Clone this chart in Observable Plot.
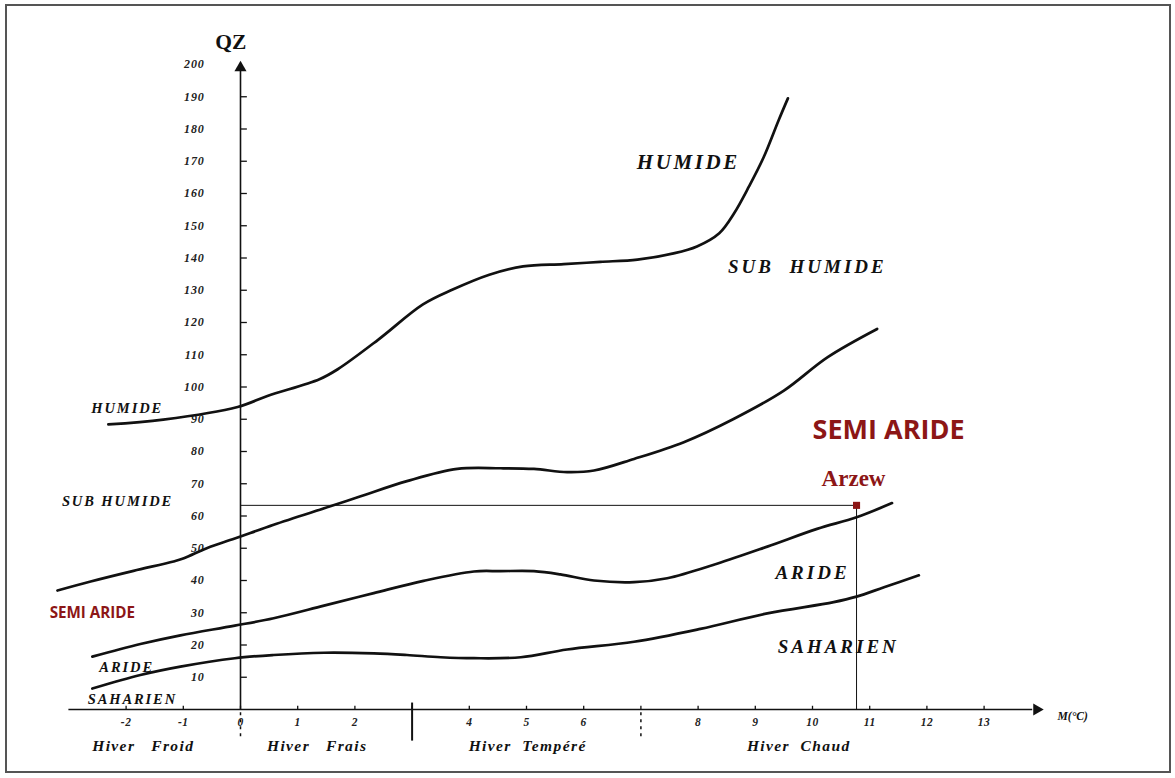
<!DOCTYPE html>
<html>
<head>
<meta charset="utf-8">
<script src="https://cdn.jsdelivr.net/npm/d3@7"></script>
<script src="https://cdn.jsdelivr.net/npm/@observablehq/plot@0.6"></script>
<style>
  html, body { margin: 0; padding: 0; background: #fff; }
  #chart { position: absolute; left: 0; top: 0; }
  #frame { position: absolute; left: 5px; top: 4px; width: 1162px; height: 765px; border: 2px solid #555; pointer-events: none; }
  #chart svg text { white-space: pre; }
</style>
</head>
<body>
<div id="chart"></div>
<div id="frame"></div>
<script>
// Emberger climagram: pluviothermic quotient Q2 against m, the mean minimum of the coldest month (°C)

// Boundary lines between bioclimatic zones, as [m, Q2] pairs
const limitHumide = [
  [-2.31, 88.4], [-1.35, 89.9], [-0.05, 93.8], [0.47, 97.2], [1.38, 102.4], [1.70, 105.5],
  [2.41, 114.7], [3.19, 125.6], [3.71, 130.2], [4.35, 134.8], [4.94, 137.4], [5.65, 138.1],
  [6.29, 138.8], [6.94, 139.5], [7.59, 141.5], [7.98, 143.6], [8.37, 147.7], [8.63, 153.9],
  [8.89, 162.2], [9.15, 171.4], [9.41, 182.8], [9.57, 189.5]
];
const limitSubHumide = [
  [-3.20, 36.9], [-2.62, 39.7], [-1.87, 43.0], [-1.17, 45.9], [-0.99, 46.9], [-0.58, 50.1],
  [-0.10, 53.0], [0.58, 57.3], [1.57, 63.0], [2.10, 66.1], [2.91, 70.8], [3.79, 74.6],
  [4.55, 74.8], [5.13, 74.6], [5.71, 73.6], [6.18, 74.1], [6.88, 77.7], [7.75, 82.9],
  [8.62, 90.1], [9.50, 98.9], [10.26, 109.2], [11.13, 118.0]
];
const limitSemiAride = [
  [-2.59, 16.4], [-1.75, 20.3], [-1.05, 23.0], [-0.10, 26.0], [0.58, 28.3], [1.46, 32.2],
  [2.33, 36.1], [3.20, 39.9], [4.08, 42.8], [4.55, 42.9], [5.13, 42.9], [5.59, 41.9],
  [6.18, 40.0], [6.88, 39.5], [7.46, 40.7], [8.33, 45.2], [9.21, 50.5], [10.08, 56.0],
  [10.77, 59.6], [11.39, 64.0]
];
const limitAride = [
  [-2.59, 6.5], [-1.75, 10.7], [-1.05, 13.3], [-0.10, 15.9], [0.58, 16.9], [1.46, 17.6],
  [2.33, 17.4], [2.91, 16.9], [3.50, 16.2], [4.08, 15.9], [4.90, 16.2], [5.71, 18.6],
  [6.88, 21.0], [8.04, 25.0], [9.21, 29.8], [10.37, 33.3], [10.77, 35.0], [11.25, 37.9],
  [11.86, 41.6]
];

// Station
const stationName = "Arzew";
const stationM = 10.77;
const stationQ = 63.3;

// Axis ticks
const mTicks = [-2, -1, 0, 1, 2, 3, 4, 5, 6, 7, 8, 9, 10, 11, 12, 13];
const mTickLabels = ["-2", "-1", "0", "1", "2", "", "4", "5", "6", "", "8", "9", "10", "11", "12", "13"];
const qTicks = [10, 20, 30, 40, 50, 60, 70, 80, 90, 100, 110, 120, 130, 140, 150, 160, 170, 180, 190, 200];

// Winter variants along the m axis, with their separators
const winterTypes = ["Hiver   Froid", "Hiver   Frais", "Hiver  Tempéré", "Hiver  Chaud"];
const winterCenters = [-1.70, 1.34, 5.02, 9.76];
const winterBreaksDashed = [0, 7];
const winterBreaksSolid = [3];

// Zone names written along the right side and the left margin
const zonesRight = ["SUB  HUMIDE", "ARIDE", "SAHARIEN"];
const zonesRightM = [9.91, 10.0, 10.45];
const zonesRightQ = [137.1, 42.2, 19.5];
const zoneTopName = "HUMIDE";
const zoneTopM = 7.83, zoneTopQ = 169.6;
const zoneHighlight = "SEMI ARIDE";
const zoneHighlightM = 11.33, zoneHighlightQ = 86.5;

const zonesLeft = ["HUMIDE", "SUB HUMIDE", "ARIDE", "SAHARIEN"];
const zonesLeftM = [-1.98, -2.15, -1.99, -1.89];
const zonesLeftQ = [93.3, 64.5, 13.0, 3.1];
const zoneLeftHighlightM = -2.59, zoneLeftHighlightQ = 29.8;

const serif = "'Liberation Serif', 'Times New Roman', serif";
const sans = "'Open Sans', 'Noto Sans', sans-serif";
const darkRed = "#8c1616";
const ink = "#111";

// letter spacing for each text size used below
const spacingBySize = {"21": 2.6, "19": 3, "14.5": 1.9, "15.5": 1.4, "12": 0.8, "11.5": 0.5};

const lines = [
  ["humide", limitHumide], ["subhumide", limitSubHumide],
  ["semiaride", limitSemiAride], ["aride", limitAride]
].flatMap(([zone, pts]) => pts.map(([m, q]) => ({zone, m, q})));

const station = [{name: stationName, m: stationM, q: stationQ}];
const ticks = mTicks.map((m, i) => ({m, label: mTickLabels[i]}));
const winters = winterTypes.map((t, i) => ({t, m: winterCenters[i]}));
const right = zonesRight.map((t, i) => ({t, m: zonesRightM[i], q: zonesRightQ[i]}));
const left = zonesLeft.map((t, i) => ({t, m: zonesLeftM[i], q: zonesLeftQ[i]}));

const chart = Plot.plot({
  width: 1175,
  height: 778,
  marginLeft: 68.4,
  marginRight: 134.2,
  marginTop: 64,
  marginBottom: 69,
  x: {domain: [-3, 14], axis: null},
  y: {domain: [0, 200], axis: null},
  style: {background: "#fff", overflow: "visible"},
  marks: [
    // axes
    Plot.ruleY([0], {x1: -3, x2: 13.85, stroke: ink, strokeWidth: 1.6}),
    Plot.ruleX([0], {y1: 0, y2: 198, stroke: ink, strokeWidth: 1.6}),
    Plot.dot([{m: 0, q: 199}], {x: "m", y: "q", symbol: "triangle", r: 4.5, fill: ink, stroke: null}),
    Plot.dot([{m: 13.92, q: 0}], {x: "m", y: "q", symbol: "triangle", rotate: 90, r: 4.5, fill: ink, stroke: null}),
    Plot.ruleY(qTicks.filter(q => q < 200), {y: d => d, x1: 0, x2: 0.12, stroke: ink, strokeWidth: 1.3}),
    Plot.ruleX(mTicks, {x: d => d, y1: 0, y2: 1, stroke: ink, strokeWidth: 1.3}),
    Plot.text(qTicks, {
      x: 0, y: d => d, text: d => String(d), dx: -36, textAnchor: "end",
      fontFamily: serif, fontStyle: "italic", fontWeight: "bold", fontSize: 12, fill: "#222"
    }),
    Plot.text(ticks, {
      x: "m", y: 0, text: "label", dy: 13,
      fontFamily: serif, fontStyle: "italic", fontWeight: "bold", fontSize: 11.5, fill: "#222"
    }),
    // winter separators and names
    Plot.ruleX(winterBreaksDashed, {x: d => d, y1: -1, y2: -9.5, stroke: ink, strokeWidth: 1.5, strokeDasharray: "3,4"}),
    Plot.ruleX(winterBreaksSolid, {x: d => d, y1: 2, y2: -9.8, stroke: ink, strokeWidth: 2}),
    Plot.text(winters, {
      x: "m", y: -11.2, text: "t",
      fontFamily: serif, fontStyle: "italic", fontWeight: "bold", fontSize: 15.5, fill: ink
    }),
    // zone boundaries
    Plot.line(lines, {x: "m", y: "q", z: "zone", curve: "catmull-rom", stroke: ink, strokeWidth: 2.7}),
    // station reference lines and marker
    Plot.ruleY(station, {y: "q", x1: 0, x2: "m", stroke: ink, strokeWidth: 1}),
    Plot.ruleX(station, {x: "m", y1: 0, y2: "q", stroke: ink, strokeWidth: 1}),
    Plot.dot(station, {x: "m", y: "q", symbol: "square", r: 4, fill: darkRed, stroke: null}),
    Plot.text(station, {
      x: "m", y: "q", text: "name", dx: -3, dy: -27,
      fontFamily: serif, fontWeight: "bold", fontSize: 23, fill: darkRed
    }),
    // zone names
    Plot.text([zoneTopName], {
      x: zoneTopM, y: zoneTopQ, text: d => d,
      fontFamily: serif, fontStyle: "italic", fontWeight: "bold", fontSize: 21, fill: ink
    }),
    Plot.text(right, {
      x: "m", y: "q", text: "t",
      fontFamily: serif, fontStyle: "italic", fontWeight: "bold", fontSize: 19, fill: ink
    }),
    Plot.text([zoneHighlight], {
      x: zoneHighlightM, y: zoneHighlightQ, text: d => d,
      fontFamily: sans, fontWeight: "bold", fontSize: 27, fill: darkRed
    }),
    Plot.text(left, {
      x: "m", y: "q", text: "t",
      fontFamily: serif, fontStyle: "italic", fontWeight: "bold", fontSize: 14.5, fill: ink
    }),
    Plot.text([zoneHighlight], {
      x: zoneLeftHighlightM, y: zoneLeftHighlightQ, text: d => d,
      fontFamily: sans, fontWeight: "bold", fontSize: 15.2, fill: darkRed
    }),
    // axis titles
    Plot.text(["QZ"], {
      x: -0.17, y: 206.8, text: d => d,
      fontFamily: serif, fontWeight: "bold", fontSize: 21.5, fill: ink
    }),
    Plot.text(["M(°C)"], {
      x: 14.55, y: -2.2, text: d => d,
      fontFamily: serif, fontStyle: "italic", fontWeight: "bold", fontSize: 11.6, fill: ink
    })
  ]
});

// widen the lettering of the serif labels, keyed on their font size
d3.select(chart).selectAll("g[font-size]").each(function () {
  const s = spacingBySize[this.getAttribute("font-size")];
  if (s) this.setAttribute("letter-spacing", s);
});

document.getElementById("chart").appendChild(chart);
</script>
</body>
</html>
